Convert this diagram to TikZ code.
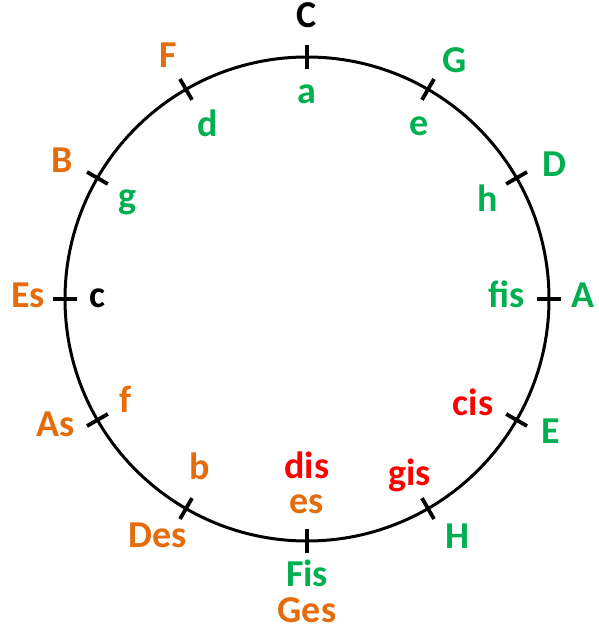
\documentclass[tikz,border=0pt]{standalone}
\usepackage{fontspec}
\setmainfont{Carlito}
\usetikzlibrary{calc,positioning}
\definecolor{KeyOrange}{HTML}{E46C0A}
\definecolor{KeyGreen}{HTML}{00B050}
\definecolor{KeyRed}{HTML}{FF0000}
\definecolor{KeyInk}{HTML}{000000}
\tikzset{
  keylabel/.style={inner sep=0pt,text height=26pt,text depth=8pt,align=center,font=\fontsize{38}{40}\selectfont\bfseries},
  major/.style={keylabel},
  minor/.style={keylabel},
  ring/.style={draw=KeyInk,line width=3pt},
  tickmark/.style={draw=KeyInk,line width=3.8pt}
}

\begin{document}
\begin{tikzpicture}[x=1pt,y=1pt]
  \useasboundingbox (0,0) rectangle (598,631);
  \coordinate (ctr) at (307,332);
  \draw[ring] (ctr) circle (242);
  % ticks every fifth
  \foreach \a in {0,30,...,330}
    \draw[tickmark] ($(ctr)+(\a:230)$) -- ($(ctr)+(\a:254)$);

  % major keys, outside
  \node[major,text=KeyInk]    (C)   at ($(ctr)+(90:280)$)   {C};
  \node[major,text=KeyGreen]  (G)   at ($(ctr)+(58:278)$)   {G};
  \node[major,text=KeyGreen]  (D)   at ($(ctr)+(28:280)$)   {D};
  \node[major,text=KeyGreen]  (A)   at ($(ctr)+(0:276)$)    {A};
  \node[major,text=KeyGreen]  (E)   at ($(ctr)+(-29:279)$)  {E};
  \node[major,text=KeyGreen]  (H)   at ($(ctr)+(-58:284)$)  {H};
  \node[major,text=KeyGreen]  (Fis) at ($(ctr)+(-90:279)$)  {Fis};
  \node[major,text=KeyOrange,text depth=2pt,below=1pt of Fis] (Ges) {Ges};
  \node[major,text=KeyOrange] (Des) at ($(ctr)+(-122:282)$) {Des};
  \node[major,text=KeyOrange] (As)  at ($(ctr)+(-153:282)$) {As};
  \node[major,text=KeyOrange] (Es)  at ($(ctr)+(180:279)$)  {Es};
  \node[major,text=KeyOrange] (B)   at ($(ctr)+(151:280)$)  {B};
  \node[major,text=KeyOrange] (F)   at ($(ctr)+(120:278)$)  {F};

  % minor keys, inside
  \node[minor,text=KeyGreen]  (a)   at ($(ctr)+(90:204)$)   {a};
  \node[minor,text=KeyGreen]  (e)   at ($(ctr)+(57:206)$)   {e};
  \node[minor,text=KeyGreen]  (h)   at ($(ctr)+(28:205)$)   {h};
  \node[minor,text=KeyGreen]  (fis) at ($(ctr)+(0:200)$)    {fis};
  \node[minor,text=KeyRed]    (cis) at ($(ctr)+(-33:198)$)  {cis};
  \node[minor,text=KeyRed]    (gis) at ($(ctr)+(-60:205)$)  {gis};
  \node[minor,text=KeyOrange] (es)  at ($(ctr)+(-90:206)$)  {es};
  \node[minor,text=KeyRed,above=1pt of es] (dis) {dis};
  \node[minor,text=KeyOrange] (b)   at ($(ctr)+(-122:202)$) {b};
  \node[minor,text=KeyOrange] (f)   at ($(ctr)+(-150:210)$) {f};
  \node[minor,text=KeyInk]    (c)   at ($(ctr)+(180:210)$)  {c};
  \node[minor,text=KeyGreen]  (g)   at ($(ctr)+(151:205)$)  {g};
  \node[minor,text=KeyGreen]  (d)   at ($(ctr)+(120:198)$)  {d};
\end{tikzpicture}
\end{document}
